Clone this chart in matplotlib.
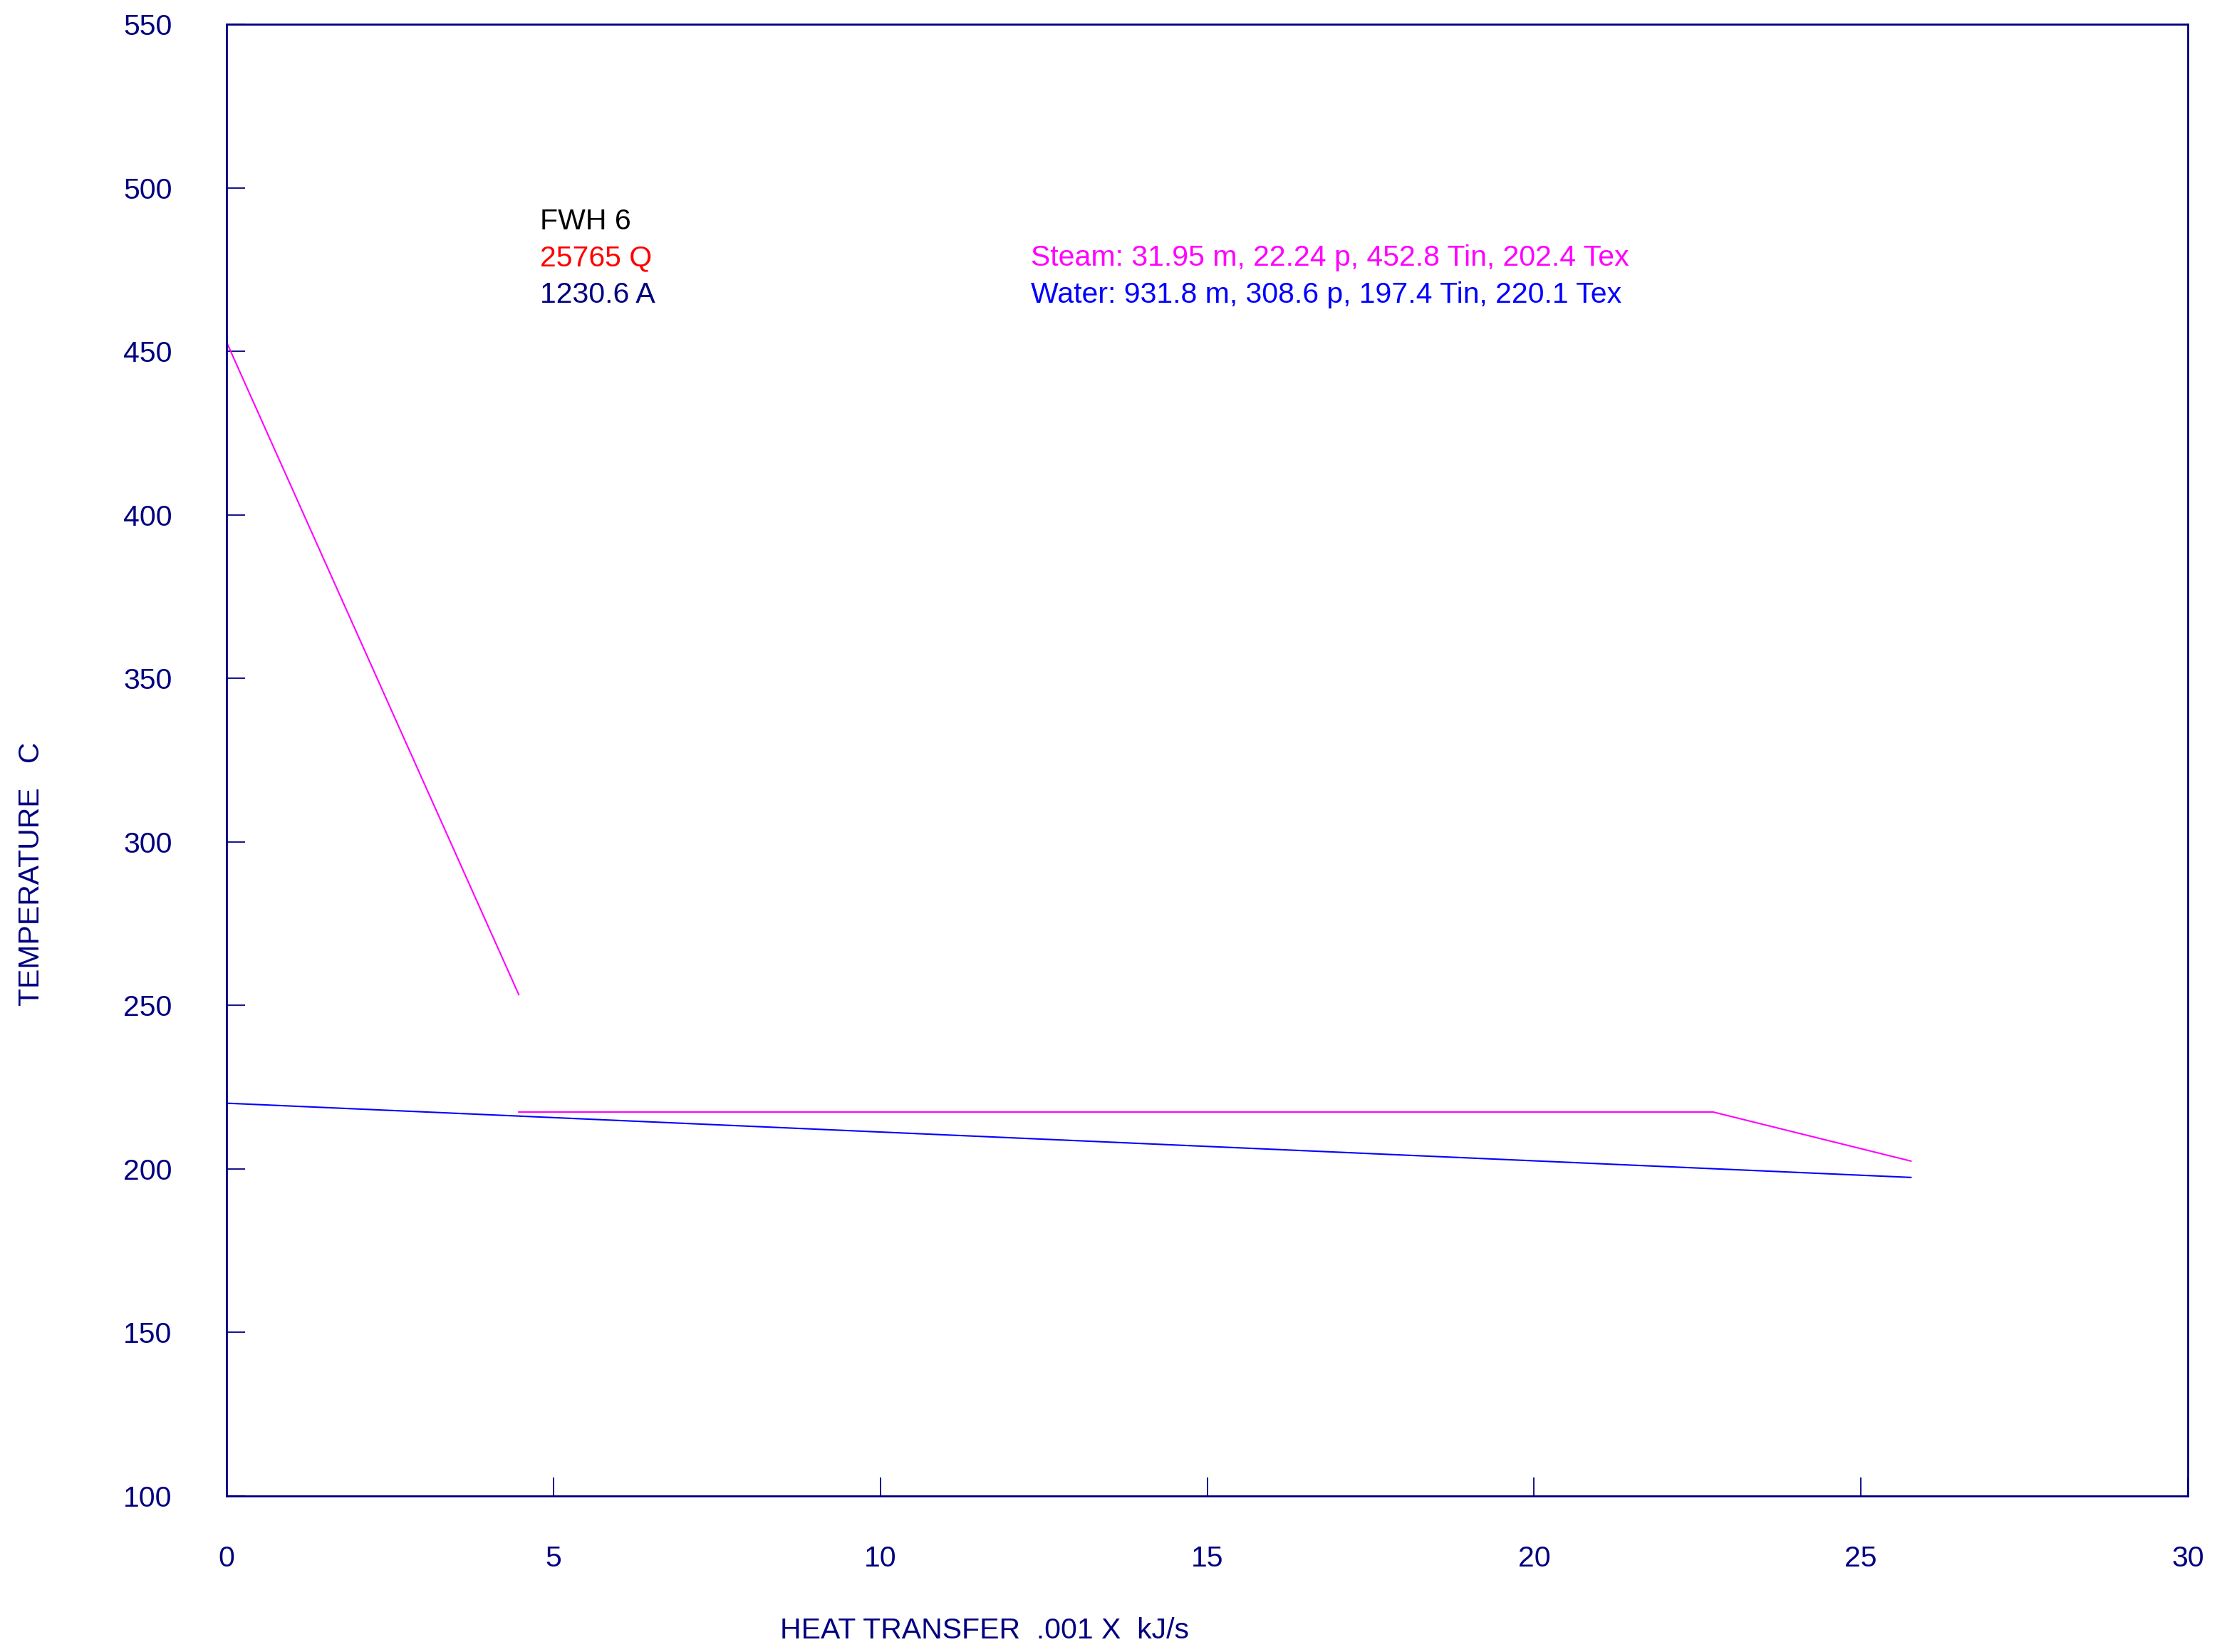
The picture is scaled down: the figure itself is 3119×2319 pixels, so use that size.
import matplotlib
matplotlib.use("Agg")
import matplotlib.pyplot as plt
import numpy as np

plt.rcParams['font.family'] = ['Liberation Sans', 'DejaVu Sans']

# steam side: desuperheating segment, then condensing + drain cooling
steam_q1 = [0.0, 4.47]
steam_t1 = [452.8, 253.3]
steam_q2 = [4.47, 22.74, 25.765]
steam_t2 = [217.4, 217.4, 202.4]

# feedwater side
water_q = [0.0, 25.765]
water_t = [220.1, 197.4]

xticks = [0, 5, 10, 15, 20, 25, 30]
yticks = [100, 150, 200, 250, 300, 350, 400, 450, 500, 550]

navy = '#000080'
fs = 29.5

fig = plt.figure(figsize=(31.19, 23.19), dpi=100)
ax = fig.add_axes([318/3119, 1-2100/2319, (3071-318)/3119, (2100-34)/2319])

ax.plot(steam_q1, steam_t1, color='#FF00FF', lw=1.5)
ax.plot(steam_q2, steam_t2, color='#FF00FF', lw=1.5)
ax.plot(water_q, water_t, color='#0000FF', lw=1.5)

ax.set_xlim(0, 30)
ax.set_ylim(100, 550)
ax.set_xticks(xticks)
ax.set_yticks(yticks)
ax.tick_params(direction='in', length=19, width=1.3, color=navy,
               labelcolor=navy, labelsize=fs)
ax.tick_params(axis='x', pad=50)
ax.tick_params(axis='y', pad=55)
for s in ax.spines.values():
    s.set_color(navy)
    s.set_linewidth(2)

ax.text(0.1597, 0.866, "FWH 6", transform=ax.transAxes, color='black',
        fontsize=fs, va='center')
ax.text(0.1597, 0.841, "25765 Q", transform=ax.transAxes, color='#FF0000',
        fontsize=fs, va='center')
ax.text(0.1597, 0.816, "1230.6 A", transform=ax.transAxes, color=navy,
        fontsize=fs, va='center')
ax.text(0.410, 0.841, "Steam: 31.95 m, 22.24 p, 452.8 Tin, 202.4 Tex",
        transform=ax.transAxes, color='#FF00FF', fontsize=fs, va='center')
ax.text(0.410, 0.816, "Water: 931.8 m, 308.6 p, 197.4 Tin, 220.1 Tex",
        transform=ax.transAxes, color='#0000FF', fontsize=fs, va='center')

fig.text(0.014, 0.471, "TEMPERATURE   C", rotation=90, color=navy,
         fontsize=fs, ha='center', va='center')
fig.text(0.443, 0.013, "HEAT TRANSFER  .001 X  kJ/s", color=navy,
         fontsize=fs, ha='center', va='center')

fig.savefig("out.png", dpi=100)
